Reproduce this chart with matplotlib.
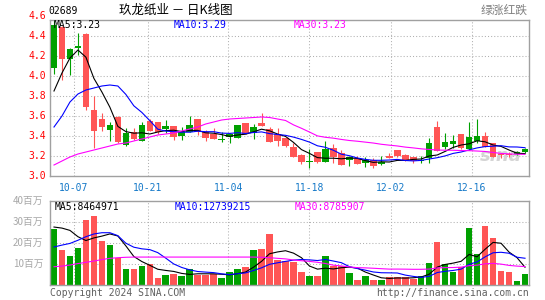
import matplotlib
matplotlib.use('Agg')
import matplotlib.pyplot as plt
import numpy as np

# 玖龙纸业 (02689) daily bars
opens = [4.08, 4.49, 4.17, 4.28, 4.42, 3.66, 3.57, 3.46, 3.59, 3.31,
         3.44, 3.35, 3.55, 3.54, 3.47, 3.50, 3.40, 3.44, 3.57, 3.44,
         3.42, 3.36, 3.39, 3.38, 3.53, 3.43, 3.53, 3.47, 3.42, 3.38,
         3.29, 3.21, 3.14, 3.24, 3.14, 3.28, 3.23, 3.16, 3.17, 3.13,
         3.16, 3.12, 3.20, 3.26, 3.21, 3.19, 3.15, 3.18, 3.49, 3.29,
         3.32, 3.42, 3.27, 3.35, 3.40, 3.33, 3.22, 3.22, 3.22, 3.24]
highs = [4.56, 4.50, 4.28, 4.43, 4.43, 3.80, 3.63, 3.54, 3.60, 3.48,
         3.48, 3.54, 3.57, 3.54, 3.56, 3.50, 3.49, 3.60, 3.57, 3.46,
         3.48, 3.44, 3.43, 3.51, 3.53, 3.52, 3.63, 3.49, 3.48, 3.38,
         3.33, 3.22, 3.27, 3.24, 3.35, 3.32, 3.26, 3.20, 3.20, 3.19,
         3.18, 3.20, 3.23, 3.26, 3.22, 3.19, 3.20, 3.38, 3.55, 3.43,
         3.41, 3.42, 3.54, 3.57, 3.44, 3.33, 3.23, 3.24, 3.25, 3.28]
lows = [4.02, 3.96, 4.01, 4.21, 3.66, 3.28, 3.45, 3.35, 3.33, 3.30,
        3.36, 3.35, 3.45, 3.42, 3.43, 3.36, 3.36, 3.44, 3.41, 3.35,
        3.37, 3.34, 3.33, 3.38, 3.42, 3.37, 3.50, 3.34, 3.30, 3.29,
        3.19, 3.12, 3.08, 3.13, 3.14, 3.13, 3.11, 3.10, 3.12, 3.09,
        3.08, 3.11, 3.18, 3.19, 3.15, 3.13, 3.13, 3.13, 3.25, 3.27,
        3.28, 3.27, 3.26, 3.33, 3.29, 3.19, 3.18, 3.19, 3.21, 3.23]
closes = [4.51, 4.17, 4.27, 4.30, 3.69, 3.45, 3.49, 3.51, 3.34, 3.43,
          3.37, 3.51, 3.45, 3.44, 3.50, 3.39, 3.44, 3.51, 3.44, 3.38,
          3.37, 3.37, 3.42, 3.51, 3.42, 3.49, 3.50, 3.34, 3.35, 3.30,
          3.19, 3.14, 3.15, 3.14, 3.27, 3.19, 3.11, 3.19, 3.12, 3.16,
          3.10, 3.14, 3.18, 3.20, 3.16, 3.15, 3.16, 3.33, 3.25, 3.34,
          3.35, 3.28, 3.39, 3.40, 3.29, 3.19, 3.21, 3.21, 3.24, 3.27]
# volume in 百万
volumes = [26.7, 16.7, 13.8, 17.6, 31.1, 32.9, 21.0, 19.0, 12.7, 7.6,
           7.6, 9.0, 10.0, 3.3, 4.8, 5.2, 4.3, 7.6, 4.8, 4.8,
           5.1, 3.3, 6.2, 7.6, 8.7, 16.7, 17.1, 24.3, 11.9, 11.6,
           11.0, 6.2, 4.5, 4.5, 13.8, 9.2, 9.2, 5.6, 2.6, 4.2,
           2.2, 2.6, 4.0, 3.8, 3.8, 3.0, 4.5, 10.6, 20.6, 10.2,
           6.2, 8.8, 27.0, 15.0, 28.1, 22.5, 6.8, 6.0, 1.7, 5.3]

# averages at the left edge, where earlier bars are not shown
ma5_head = [3.85, 4.03, 4.18, 4.26]
ma10_head = [3.49, 3.60, 3.74, 3.82, 3.86, 3.88, 3.90, 3.91, 3.90]
ma30_head = [3.11, 3.15, 3.19, 3.22, 3.24, 3.26, 3.28, 3.30, 3.32, 3.33,
             3.35, 3.37, 3.39, 3.41, 3.42, 3.43, 3.45, 3.47, 3.49, 3.52,
             3.54, 3.56, 3.57, 3.575, 3.58, 3.585, 3.59, 3.585, 3.57]
vma5_head = [27.6, 27.1, 26.0, 23.0]
vma10_head = [18.1, 19.0, 19.8, 21.3, 23.0, 24.3, 24.9, 24.9, 23.5]
vma30_head = [8.7, 9.0, 9.5, 10.2, 10.8, 11.4, 12.1, 12.7, 13.0, 13.2,
              13.3, 13.3, 13.3, 13.3, 13.3, 13.3, 13.3, 13.3, 13.3, 13.3,
              13.3, 13.3, 13.3, 13.3, 13.3, 13.3, 13.2, 13.0, 12.7]

date_labels = ['10-07', '10-21', '11-04', '11-18', '12-02', '12-16']
date_pos = [2.5, 11.75, 21.85, 32.0, 42.2, 52.35]
price_ticks = [3.0, 3.2, 3.4, 3.6, 3.8, 4.0, 4.2, 4.4, 4.6]
vol_ticks = [10, 20, 30, 40]

code = '02689'
title = u'玖龙纸业 － 日K线图'
legend_note = u'绿涨红跌'
ma_price_text = ['MA5:3.23', 'MA10:3.29', 'MA30:3.23']
ma_vol_text = ['MA5:8464971', 'MA10:12739215', 'MA30:8785907']

GREEN = '#00a000'
RED = '#ff5555'
MA_COLORS = ['black', '#0000ff', '#ff00ff']
FRAME = '#a0a0a0'
GRID = '#b0b0b0'
MONO = 'DejaVu Sans Mono'
CJK = ['Noto Sans CJK SC', 'DejaVu Sans']


def moving_avg(vals, n, head):
    vals = np.asarray(vals, dtype=float)
    rest = [vals[i - n + 1:i + 1].mean() for i in range(len(head), len(vals))]
    return np.array(list(head) + rest)


def fx(px):
    return px / 545.0


def fy(py):
    return 1 - py / 300.0


fig = plt.figure(figsize=(5.45, 3.0), dpi=100)
fig.patch.set_facecolor('white')

x = np.arange(len(closes))
o = np.array(opens)
c = np.array(closes)
cols = np.where(c >= o, GREEN, RED)

# price panel
ax1 = fig.add_axes([fx(50), fy(176), 479 / 545.0, 156.5 / 300.0])
ax1.set_xlim(-0.5, len(x) - 0.5)
ax1.set_ylim(3.0, 4.565)
for y in price_ticks[1:-1]:
    ax1.axhline(y, color=GRID, lw=0.75, ls=(0, (1, 2)), zorder=0)
for p in date_pos:
    ax1.axvline(p, color=GRID, lw=0.75, ls=(0, (1, 2)), zorder=0)

ax1.text(0.985, 0.07, 'sina', transform=ax1.transAxes, ha='right', va='bottom',
         fontsize=13, fontstyle='italic', fontweight='bold', color='#d4d4d4', zorder=0)

ax1.vlines(x, lows, highs, colors=cols, lw=0.8, zorder=2)
body_bottom = np.minimum(o, c)
body_h = np.maximum(np.abs(c - o), 0.012)
ax1.bar(x, body_h, bottom=body_bottom, width=0.82, color=cols, linewidth=0, zorder=3)

ma_price = [moving_avg(closes, 5, ma5_head), moving_avg(closes, 10, ma10_head),
            moving_avg(closes, 30, ma30_head)]
for line, col in zip(ma_price, MA_COLORS):
    ax1.plot(x, line, color=col, lw=0.8, zorder=4)

for sp in ax1.spines.values():
    sp.set_color(FRAME)
    sp.set_linewidth(1)
ax1.set_xticks([])
ax1.set_yticks([])

for v in price_ticks:
    ax1.text(-0.009, v, '%.1f' % v, transform=ax1.get_yaxis_transform(), ha='right',
             va='center', fontsize=7, family=MONO, color='#ff0000', clip_on=False)
for p, lab in zip(date_pos, date_labels):
    ax1.text(p, -0.077, lab, transform=ax1.get_xaxis_transform(), ha='center',
             va='center', fontsize=7, family=MONO, color='#1478c8', clip_on=False)

for px, txt, col in zip([54, 174, 294], ma_price_text, MA_COLORS):
    fig.text(fx(px), fy(25), txt, ha='left', va='center', fontsize=7, family=MONO,
             color=col, zorder=10)

# volume panel
ax2 = fig.add_axes([fx(50), fy(285), 479 / 545.0, 84 / 300.0])
ax2.set_xlim(-0.5, len(x) - 0.5)
ax2.set_ylim(0, 40)
for y in vol_ticks[:-1]:
    ax2.axhline(y, color=GRID, lw=0.75, ls=(0, (1, 2)), zorder=0)
for p in date_pos:
    ax2.axvline(p, color=GRID, lw=0.75, ls=(0, (1, 2)), zorder=0)

ax2.bar(x, volumes, width=0.82, color=cols, linewidth=0, zorder=2)
ma_vol = [moving_avg(volumes, 5, vma5_head), moving_avg(volumes, 10, vma10_head),
          moving_avg(volumes, 30, vma30_head)]
for line, col in zip(ma_vol, MA_COLORS):
    ax2.plot(x, line, color=col, lw=0.8, zorder=4)

for sp in ax2.spines.values():
    sp.set_color(FRAME)
    sp.set_linewidth(1)
ax2.set_xticks([])
ax2.set_yticks([])
for v in vol_ticks:
    ax2.text(-0.014, v, u'%d百万' % v, transform=ax2.get_yaxis_transform(), ha='right',
             va='center', fontsize=7, family=CJK, color='#a8a8a8', clip_on=False)

for px, txt, col in zip([55, 175, 295], ma_vol_text, MA_COLORS):
    fig.text(fx(px), fy(206.5), txt, ha='left', va='center', fontsize=7, family=MONO,
             color=col, zorder=10)

# header and footer
fig.text(fx(48), fy(11), code, ha='left', va='center', fontsize=7, family=MONO, color='black')
fig.text(fx(119), fy(10.5), title, ha='left', va='center', fontsize=9, family=CJK,
         fontweight='medium', color='black')
fig.text(fx(528), fy(10.5), legend_note, ha='right', va='center', fontsize=8.5, family=CJK,
         color='#808080')
fig.text(fx(50), fy(293), 'Copyright 2024 SINA.COM', ha='left', va='center', fontsize=7,
         family=MONO, color='#606060')
fig.text(fx(529), fy(293), 'http://finance.sina.com.cn', ha='right', va='center', fontsize=7,
         family=MONO, color='#606060')

fig.savefig('out.png', dpi=100)
